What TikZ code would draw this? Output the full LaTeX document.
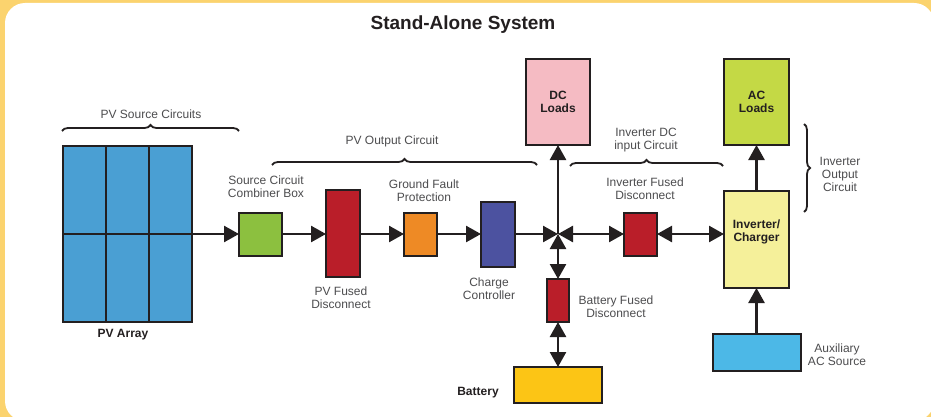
\documentclass[tikz,border=0pt]{standalone}
\usepackage{fontspec}
\setmainfont{Liberation Sans}
\usetikzlibrary{arrows.meta,decorations.pathreplacing}
\definecolor{bord}{HTML}{231F20}
\definecolor{labgray}{HTML}{4D4D4F}
\definecolor{bgyel}{HTML}{FBD36E}
\definecolor{pvblue}{HTML}{4A9FD3}
\definecolor{combgreen}{HTML}{8CC03F}
\definecolor{fusered}{HTML}{BA1E29}
\definecolor{gforange}{HTML}{EE8A25}
\definecolor{ccblue}{HTML}{4C52A0}
\definecolor{dcpink}{HTML}{F5BBC3}
\definecolor{acgreen}{HTML}{C4D945}
\definecolor{invyel}{HTML}{F5F09A}
\definecolor{auxblue}{HTML}{4CB8E7}
\definecolor{batyel}{HTML}{FCC515}
\begin{document}
\begin{tikzpicture}[x=1pt,y=-1pt,
  blk/.style={draw=bord,line width=2.5pt,inner sep=0pt,outer sep=0pt},
  lab/.style={text=labgray,align=center,inner sep=0pt,font=\fontsize{12}{13}\selectfont},
  blab/.style={text=bord,align=center,inner sep=0pt,font=\fontsize{12}{13}\selectfont\bfseries},
  conn/.style={draw=bord,line width=2.5pt,-{Triangle[length=15pt,width=16pt]}},
  dconn/.style={draw=bord,line width=2.5pt,{Triangle[length=15pt,width=16pt]}-{Triangle[length=15pt,width=16pt]}},
  brc/.style={draw=bord,line width=1.8pt,decorate,decoration={brace,amplitude=6pt}}
]
\clip (0,0) rectangle (931,417);
\useasboundingbox (0,0) rectangle (931,417);
\fill[bgyel] (0,0) rectangle (931,417);
\fill[white,rounded corners=20pt] (5,3) rectangle (934,421);

% title
\node[text=bord,inner sep=0pt,font=\fontsize{19}{22}\selectfont\bfseries] (title) at (463,25) {Stand-Alone System};

% blocks
\node[blk,fill=pvblue,minimum width=129pt,minimum height=176pt] (pva) at (127.5,234) {};
\draw[bord,line width=2.5pt] (106,145) -- (106,323) (149,145) -- (149,323) (pva.west) -- (pva.east);
\node[blk,fill=combgreen,minimum width=43pt,minimum height=43pt] (comb) at (260.5,234.5) {};
\node[blk,fill=fusered,minimum width=34pt,minimum height=87pt] (pvfd) at (343,233.5) {};
\node[blk,fill=gforange,minimum width=33pt,minimum height=43pt] (gfp) at (420.5,234.5) {};
\node[blk,fill=ccblue,minimum width=34pt,minimum height=65pt] (cc) at (498,234.5) {};
\node[blk,fill=dcpink,minimum width=64pt,minimum height=86pt] (dcl) at (558,102) {};
\node[blk,fill=acgreen,minimum width=65pt,minimum height=86pt] (acl) at (756.5,102) {};
\node[blk,fill=fusered,minimum width=33pt,minimum height=43pt] (ifd) at (640.5,234.5) {};
\node[blk,fill=invyel,minimum width=65pt,minimum height=97pt] (inv) at (756.5,239.5) {};
\node[blk,fill=fusered,minimum width=22pt,minimum height=43pt] (bfd) at (558,300.5) {};
\node[blk,fill=batyel,minimum width=88pt,minimum height=36pt] (bat) at (558,385) {};
\node[blk,fill=auxblue,minimum width=88pt,minimum height=37pt] (aux) at (757,352.5) {};
\coordinate (J) at (558,234);

% labels
\node[lab] (lpvs) at (151,114) {PV Source Circuits};
\node[lab] (lpvo) at (392,141) {PV Output Circuit};
\node[lab] (lcomb) at (266,187) {Source Circuit\\Combiner Box};
\node[lab] (lpvfd) at (341,298) {PV Fused\\Disconnect};
\node[lab] (lgfp) at (424,191) {Ground Fault\\Protection};
\node[lab] (lcc) at (489,289) {Charge\\Controller};
\node[lab] (linvdc) at (646,140) {Inverter DC\\input Circuit};
\node[lab] (lifd) at (645,189) {Inverter Fused\\Disconnect};
\node[lab] (linvo) at (840,174) {Inverter\\Output\\Circuit};
\node[lab] (lbfd) at (616,307) {Battery Fused\\Disconnect};
\node[lab] (laux) at (837,355) {Auxiliary\\AC Source};
\node[blab] (ldc) at (dcl.center) {DC\\Loads};
\node[blab] (lac) at (acl.center) {AC\\Loads};
\node[blab] (linv) at (756.5,232) {Inverter/\\Charger};
\node[blab] (lpva) at (123,335) {PV Array};
\node[blab] (lbat) at (478,393) {Battery};

% braces
\draw[brc] (62,131) -- (239,131);
\draw[brc] (272,165) -- (537,165);
\draw[brc] (570,166) -- (723,166);
\draw[brc] (804,124) -- (804,212);

% connectors
\draw[conn] (pva.east) -- (pva.east -| comb.west);
\draw[conn] (comb.east |- pva.east) -- (pva.east -| pvfd.west);
\draw[conn] (pvfd.east |- pva.east) -- (pva.east -| gfp.west);
\draw[conn] (gfp.east |- pva.east) -- (pva.east -| cc.west);
\draw[conn] (cc.east |- J) -- (J);
\draw[conn] (J) -- (dcl.south);
\draw[dconn] (J) -- (J -| ifd.west);
\draw[dconn] (ifd.east |- J) -- (J -| inv.west);
\draw[dconn] (J) -- (bfd.north);
\draw[dconn] (bfd.south) -- (bat.north);
\draw[conn] (inv.north) -- (acl.south);
\draw[conn] (aux.north -| inv.south) -- (inv.south);
\end{tikzpicture}
\end{document}
